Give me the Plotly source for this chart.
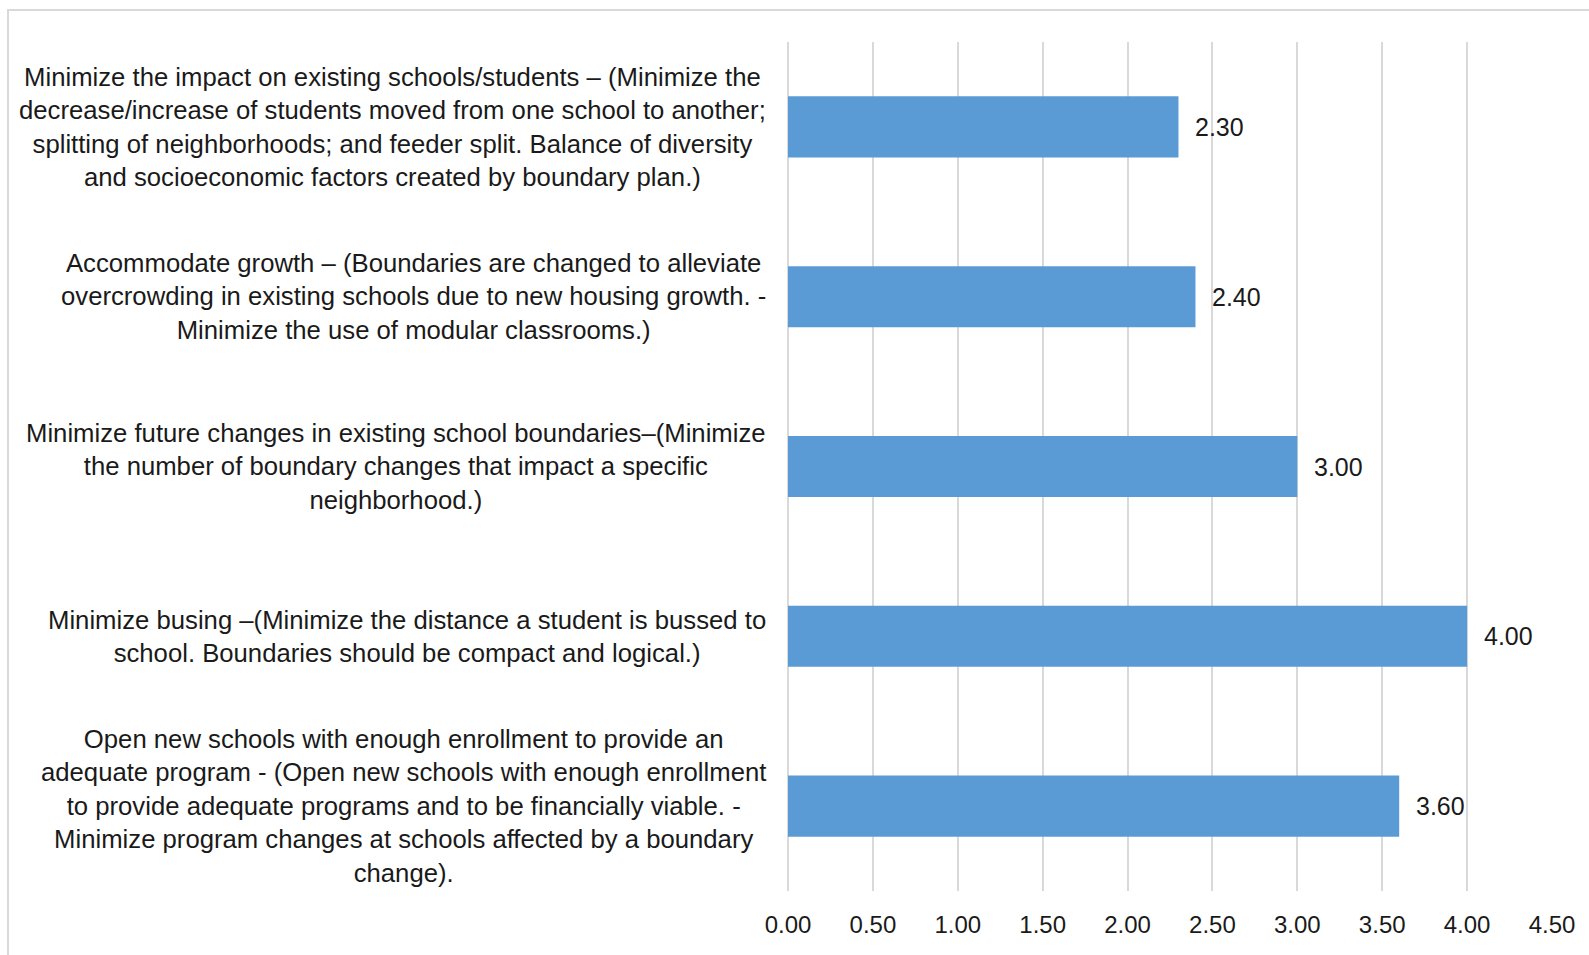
import plotly.graph_objects as go

categories = [
    "Minimize the impact on existing schools/students – (Minimize the<br>decrease/increase of students moved from one school to another;<br>splitting of neighborhoods; and feeder split. Balance of diversity<br>and socioeconomic factors created by boundary plan.)",
    "Accommodate growth – (Boundaries are changed to alleviate<br>overcrowding in existing schools due to new housing growth. -<br>Minimize the use of modular classrooms.)",
    "Minimize future changes in existing school boundaries–(Minimize<br>the number of boundary changes that impact a specific<br>neighborhood.)",
    "Minimize busing –(Minimize the distance a student is bussed to<br>school. Boundaries should be compact and logical.)",
    "Open new schools with enough enrollment to provide an<br>adequate program - (Open new schools with enough enrollment<br>to provide adequate programs and to be financially viable. -<br>Minimize program changes at schools affected by a boundary<br>change).",
]
keys = ["c1", "c2", "c3", "c4", "c5"]
values = [2.30, 2.40, 3.00, 4.00, 3.60]
tick_vals = [0, 0.5, 1.0, 1.5, 2.0, 2.5, 3.0, 3.5, 4.0, 4.5]

W, H = 1613, 969
L, R, T, B = 788, 61, 42, 78
pw, ph = W - L - R, H - T - B

FONT = "Liberation Sans, Arial, sans-serif"
TXT = "#1a1a1a"

fig = go.Figure(go.Bar(
    x=values, y=keys, orientation="h",
    marker=dict(color="#5B9BD5", line=dict(width=0)),
    hoverinfo="skip",
))

ann = []
for k, lab, v in zip(keys, categories, values):
    ann.append(dict(x=0, xref="paper", y=k, yref="y", text=lab, showarrow=False,
                    xanchor="right", yanchor="middle", align="center", xshift=-20,
                    font=dict(family=FONT, size=25.7, color=TXT)))
    ann.append(dict(x=v, xref="x", y=k, yref="y", text=f"{v:.2f}", showarrow=False,
                    xanchor="left", yanchor="middle", xshift=15,
                    font=dict(family=FONT, size=25, color=TXT)))

def px2x(px):
    return (px - L) / pw

def py2y(py):
    return (H - B - py) / ph

fig.update_layout(
    width=W, height=H,
    margin=dict(l=L, r=R, t=T, b=B),
    paper_bgcolor="white", plot_bgcolor="white",
    showlegend=False,
    bargap=0.64,
    font=dict(family=FONT, color=TXT),
    xaxis=dict(range=[0, 4.5], tickvals=tick_vals, tickformat=".2f",
               showgrid=True, gridcolor="#d9d9d9", gridwidth=1.5,
               zeroline=True, zerolinecolor="#d9d9d9", zerolinewidth=1.5,
               showline=False, ticks="", ticklabelstandoff=17,
               tickfont=dict(family=FONT, size=24, color=TXT), fixedrange=True),
    yaxis=dict(type="category", categoryorder="array", categoryarray=keys,
               autorange="reversed", showticklabels=False, showgrid=False,
               zeroline=False, showline=False, ticks="", fixedrange=True),
    annotations=ann,
    shapes=[dict(type="rect", xref="paper", yref="paper",
                 x0=px2x(8), x1=px2x(1660), y0=py2y(1020), y1=py2y(10),
                 line=dict(color="#d9d9d9", width=2), fillcolor="rgba(0,0,0,0)", layer="below")],
)

fig.write_html(
    "out.html",
    config={"displayModeBar": False},
    post_script="document.body.style.margin='0';document.body.style.overflow='hidden';",
)
